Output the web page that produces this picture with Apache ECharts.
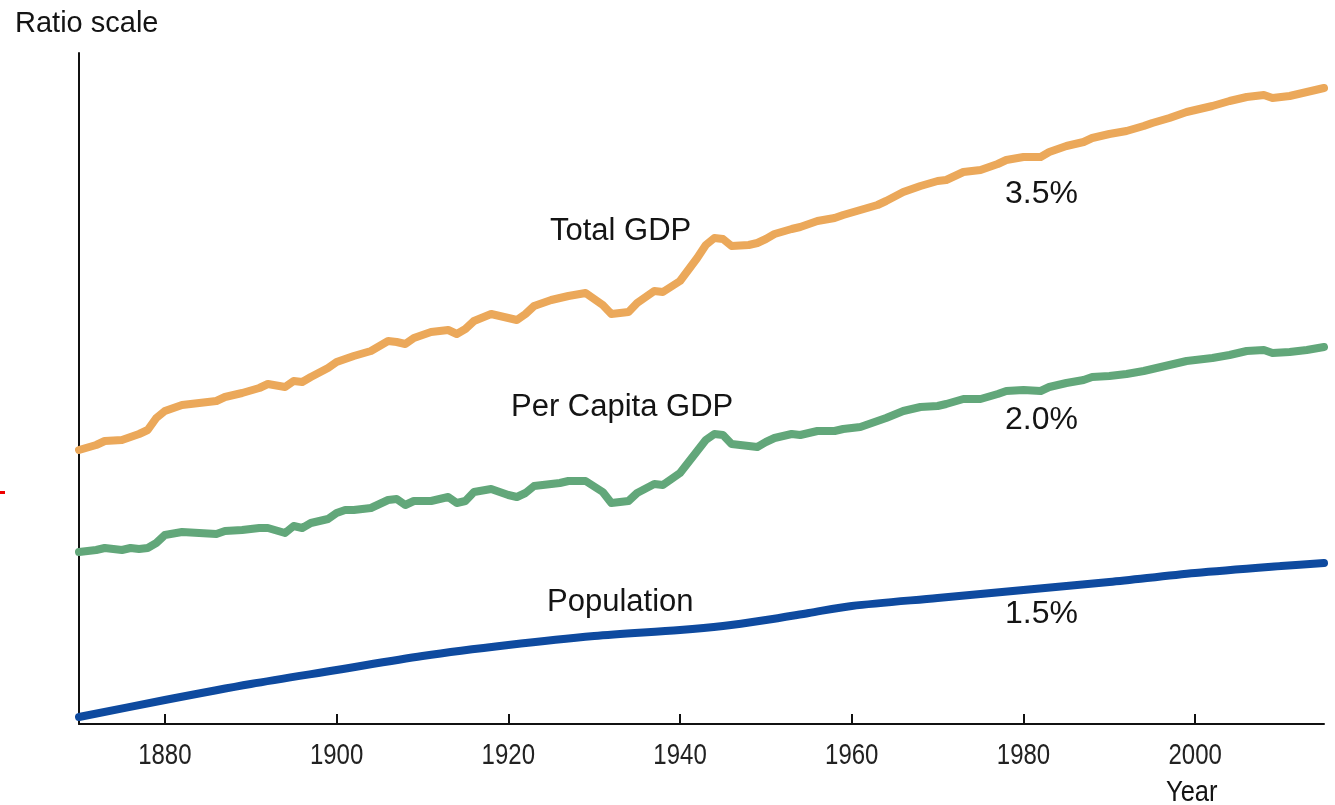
<!DOCTYPE html>
<html>
<head>
<meta charset="utf-8">
<script src="https://cdn.jsdelivr.net/npm/echarts@6/dist/echarts.min.js"></script>
<style>
  html, body { margin: 0; padding: 0; background: #fff; }
  #chartContainer { width: 1335px; height: 805px; }
</style>
</head>
<body>
<div id="chartContainer"></div>
<script>
// years sampled along the GDP curves
var gdpYears = [1870, 1872, 1873, 1875, 1876, 1877, 1878, 1879, 1880, 1882, 1884, 1886, 1887, 1889, 1891, 1892,
    1894, 1895, 1896, 1897, 1899, 1900, 1901, 1902, 1904, 1906, 1907, 1908, 1909, 1911, 1913, 1914, 1915, 1916,
    1918, 1920, 1921, 1922, 1923, 1925, 1926, 1927, 1929, 1931, 1932, 1934, 1935, 1937, 1938, 1940, 1942, 1943,
    1944, 1945, 1946, 1948, 1949, 1950, 1951, 1953, 1954, 1956, 1958, 1959, 1961, 1963, 1964, 1966, 1968, 1970,
    1971, 1973, 1975, 1977, 1978, 1980, 1982, 1983, 1985, 1987, 1988, 1990, 1992, 1994, 1995, 1997, 1999, 2001,
    2002, 2004, 2006, 2008, 2009, 2011, 2013, 2015];

// ratio scale, unlabeled: relative heights
var totalGdp = [274, 279, 283, 284, 287, 290, 294, 306, 313, 319, 321, 323, 327, 331, 336, 340,
    337, 343, 342, 347, 356, 362, 365, 368, 373, 383, 382, 380, 386, 392, 394, 390, 395, 403,
    410, 406, 404, 410, 418, 424, 426, 428, 431, 419, 410, 412, 421, 433, 432, 443, 466, 479,
    486, 485, 478, 479, 481, 485, 490, 495, 497, 503, 506, 509, 514, 519, 523, 532, 538, 543,
    544, 552, 554, 560, 564, 567, 567, 572, 578, 582, 586, 590, 593, 598, 601, 606, 612, 616,
    618, 623, 627, 629, 626, 628, 632, 636];

var perCapitaGdp = [172, 174, 176, 174, 176, 175, 176, 181, 189, 192, 191, 190, 193, 194, 196, 196,
    191, 198, 196, 201, 205, 211, 214, 214, 216, 224, 225, 219, 223, 223, 227, 221, 223, 232,
    235, 229, 227, 231, 238, 240, 241, 243, 243, 232, 221, 223, 231, 240, 239, 251, 273, 284,
    290, 289, 280, 278, 277, 282, 286, 290, 289, 293, 293, 295, 297, 303, 306, 313, 317, 318,
    320, 325, 325, 330, 333, 334, 333, 337, 341, 344, 347, 348, 350, 353, 355, 359, 363, 365,
    366, 369, 373, 374, 371, 372, 374, 377];

var popYears = [1870, 1880, 1890, 1900, 1910, 1920, 1930, 1940, 1945, 1950, 1955, 1960, 1970, 1980, 1990, 2000, 2010, 2015];
var population = [7, 24, 40, 54, 68, 79, 88, 94, 98, 104, 111, 118, 126, 134, 142, 151, 158, 161];

var tickYears = [1880, 1900, 1920, 1940, 1960, 1980, 2000];

function pairs(xs, ys) {
    return xs.map(function (x, i) { return [x, ys[i]]; });
}

var dom = document.getElementById("chartContainer");
var myChart = echarts.init(dom, null, { renderer: 'canvas' });

var textFont = "'Liberation Sans', Arial, Helvetica, sans-serif";

// plain text, centred vertically on y
function label(text, x, y, size, scaleX) {
    return {
        type: 'text',
        x: x,
        y: y,
        scaleX: scaleX || 1,
        style: {
            text: text,
            fill: '#141414',
            font: size + 'px ' + textFont,
            align: 'left',
            verticalAlign: 'middle'
        }
    };
}

var option = {
    animation: false,
    backgroundColor: '#fff',
    grid: { left: 79, right: 11, top: 53, bottom: 81 },
    xAxis: {
        type: 'value',
        min: 1870,
        max: 2015,
        splitLine: { show: false },
        axisLine: { lineStyle: { color: '#111', width: 2 } },
        axisTick: {
            inside: true,
            length: 10,
            customValues: tickYears,
            lineStyle: { color: '#111', width: 2 }
        },
        axisLabel: { show: false }
    },
    yAxis: {
        type: 'value',
        min: 0,
        max: 671,
        splitLine: { show: false },
        axisLine: { show: true, lineStyle: { color: '#111', width: 2 } },
        axisTick: { show: false },
        axisLabel: { show: false }
    },
    series: [
        {
            name: 'Total GDP',
            type: 'line',
            showSymbol: false,
            data: pairs(gdpYears, totalGdp),
            lineStyle: { color: '#EBA85A', width: 8, cap: 'round', join: 'round' }
        },
        {
            name: 'Per Capita GDP',
            type: 'line',
            showSymbol: false,
            data: pairs(gdpYears, perCapitaGdp),
            lineStyle: { color: '#62A77A', width: 8, cap: 'round', join: 'round' }
        },
        {
            name: 'Population',
            type: 'line',
            showSymbol: false,
            smooth: 0.3,
            data: pairs(popYears, population),
            lineStyle: { color: '#0E4A9F', width: 8, cap: 'round', join: 'round' }
        }
    ]
};

if (option && typeof option === "object") {
    myChart.setOption(option, true);
}

// condensed year labels under the ticks, placed through the x axis scale
var graphics = [
    label('Ratio scale', 15, 24, 29),
    label('Total GDP', 550, 231, 31),
    label('Per Capita GDP', 511, 407, 31),
    label('Population', 547, 602, 31),
    label('3.5%', 1005, 194, 32),
    label('2.0%', 1005, 420, 32),
    label('1.5%', 1005, 614, 32),
    label('Year', 1166, 793, 30, 0.85),
    {
        type: 'rect',
        x: 0,
        y: 491,
        shape: { width: 5, height: 3 },
        style: { fill: '#e00' }
    }
];

tickYears.forEach(function (yr) {
    var px = myChart.convertToPixel({ xAxisIndex: 0 }, yr);
    graphics.push({
        type: 'text',
        x: px,
        y: 756,
        scaleX: 0.8,
        style: {
            text: String(yr),
            fill: '#222',
            font: '30px ' + textFont,
            align: 'center',
            verticalAlign: 'middle'
        }
    });
});

myChart.setOption({ graphic: graphics });
</script>
</body>
</html>
